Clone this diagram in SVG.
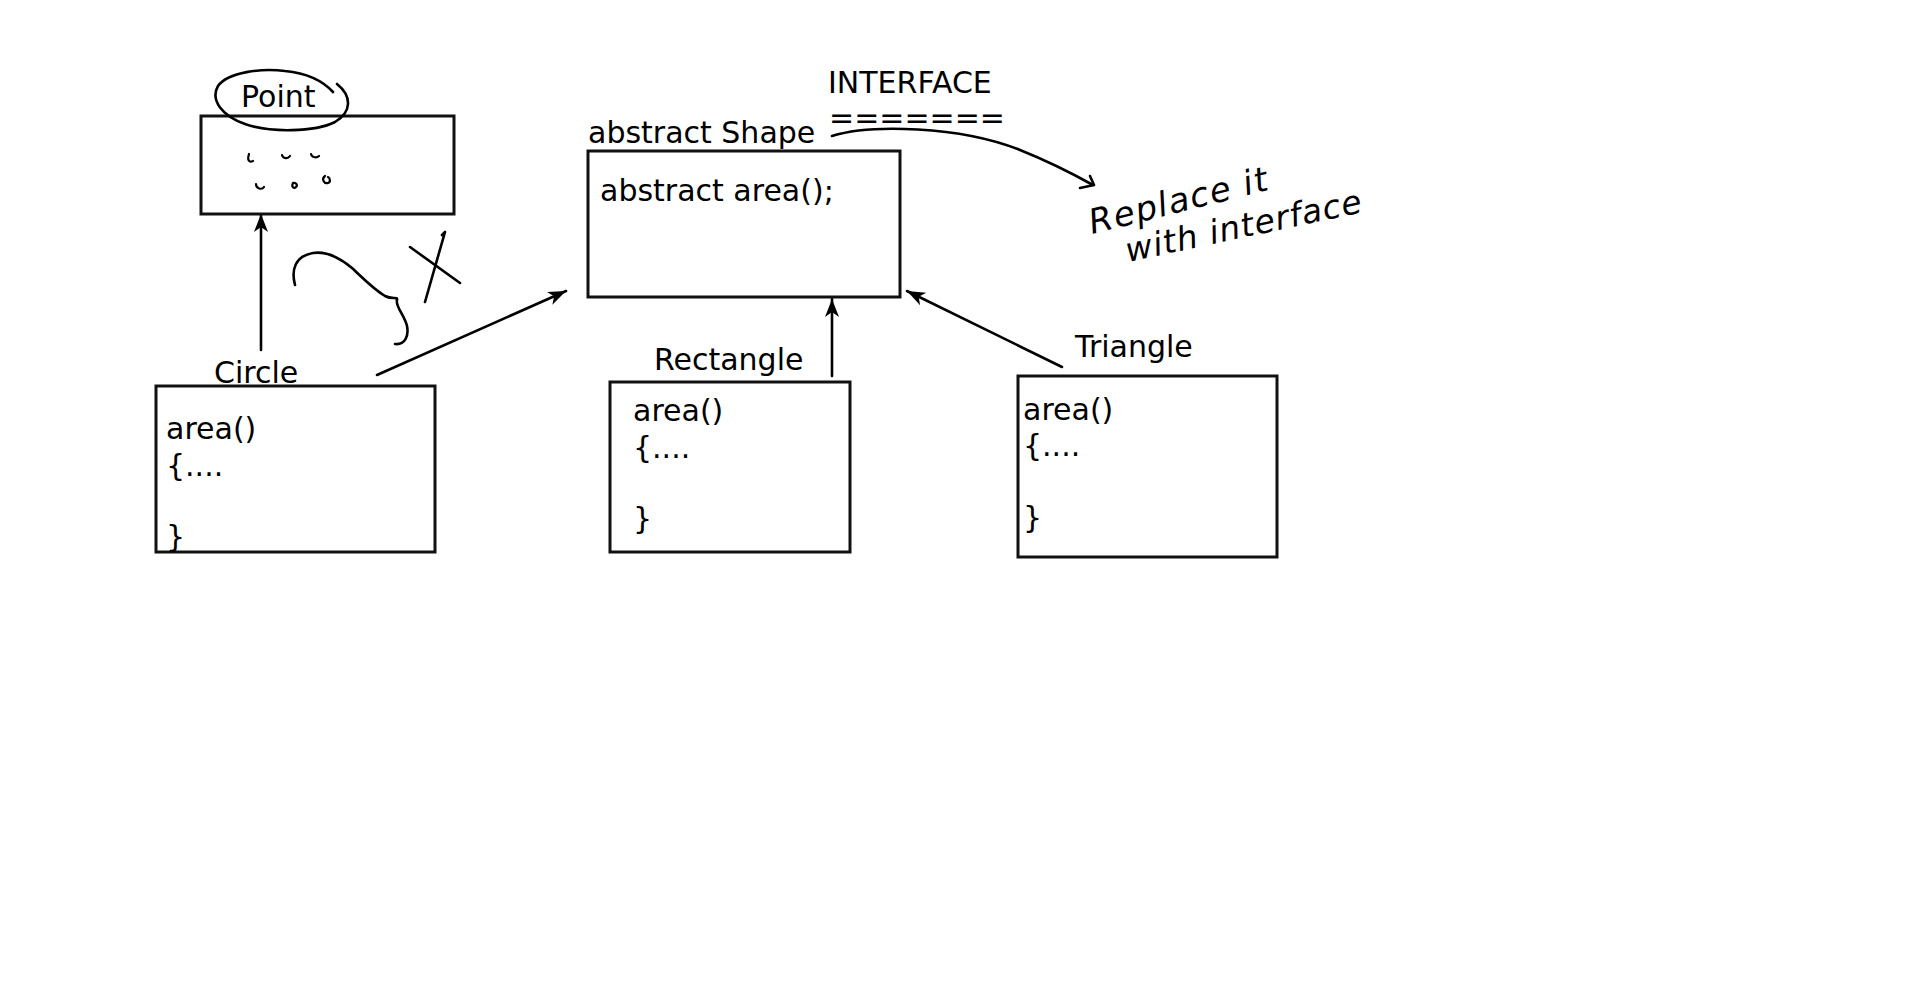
<svg xmlns="http://www.w3.org/2000/svg" width="1920" height="991" viewBox="0 0 1920 991">
<defs>
<style>
.box{fill:#fff;stroke:#111;stroke-width:3}
.t{font-family:"DejaVu Sans","Liberation Sans",sans-serif;font-size:30px;fill:#000}
.ln{fill:none;stroke:#000;stroke-width:2.6;stroke-linecap:round}
.hw{fill:none;stroke:#000;stroke-width:2.6;stroke-linecap:round;stroke-linejoin:round}
.hand{font-family:"DejaVu Sans","Liberation Sans",sans-serif;fill:#000;font-style:italic}
</style>
<marker id="arr" markerUnits="userSpaceOnUse" markerWidth="20" markerHeight="16" refX="18" refY="7" orient="auto">
<path d="M0,0 L18,7 L0,14 L5,7 Z" fill="#000"/>
</marker>
</defs>
<rect width="1920" height="991" fill="#fff"/>

<g id="connectors">
<line class="ln" x1="261" y1="350" x2="261" y2="214" marker-end="url(#arr)"/>
<line class="ln" x1="377" y1="375" x2="566" y2="291" marker-end="url(#arr)"/>
<line class="ln" x1="832" y1="376" x2="832" y2="299" marker-end="url(#arr)"/>
<line class="ln" x1="1062" y1="367" x2="907" y2="291" marker-end="url(#arr)"/>
<path class="hw" d="M832,136 C870,124 960,126 1020,150 C1050,162 1075,175 1093,185"/>
<path class="hw" d="M1090,176 L1094,185 L1080,188"/>
</g>

<g id="point">
<rect class="box" x="201" y="116" width="253" height="98"/>
<text class="t" x="241" y="107">Point</text>
<path class="hw" d="M337,84 C352,96 352,112 335,122 C315,132 270,133 245,124 C222,116 210,100 218,86 C228,72 262,68 285,71 C305,73 322,80 333,92"/>
<g class="hw" style="stroke-width:2.2">
<path d="M249,154 C247,160 249,163 253,161"/>
<path d="M282,155 C283,159 288,159 290,156"/>
<path d="M311,154 C312,158 317,158 319,156"/>
<path d="M256,184 C256,189 262,190 264,187"/>
<path d="M293,183 C291,187 294,189 296,187 C298,185 296,182 293,183"/>
<path d="M325,176 C321,179 324,184 328,183 C331,182 330,178 328,177"/>
</g>
</g>

<g id="shape">
<rect class="box" x="588" y="151" width="312" height="146"/>
<text class="t" x="588" y="143">abstract Shape</text>
<text class="t" x="600" y="201">abstract area();</text>
<text class="t" x="828" y="93">INTERFACE</text>
<text class="t" x="829" y="128">=======</text>
</g>

<g id="circle">
<rect class="box" x="156" y="386" width="279" height="166"/>
<text class="t" x="214" y="383">Circle</text>
<text class="t" x="166" y="439">area()</text>
<text class="t" x="166" y="476">{....</text>
<text class="t" x="166" y="547">}</text>
</g>

<g id="rectangle">
<rect class="box" x="610" y="382" width="240" height="170"/>
<text class="t" x="654" y="370">Rectangle</text>
<text class="t" x="633" y="421">area()</text>
<text class="t" x="633" y="458">{....</text>
<text class="t" x="633" y="529">}</text>
</g>

<g id="triangle">
<rect class="box" x="1018" y="376" width="259" height="181"/>
<text class="t" x="1075" y="357">Triangle</text>
<text class="t" x="1023" y="420">area()</text>
<text class="t" x="1023" y="456">{....</text>
<text class="t" x="1023" y="528">}</text>
</g>

<g id="annotations">
<path class="hw" d="M295,285 C291,270 295,256 313,253 C326,251 340,258 352,268 C362,277 372,288 385,296 C392,300 398,296 397,300 C395,306 405,316 407,326 C409,336 405,345 395,344"/>
<path class="hw" d="M410,247 L460,283"/>
<path class="hw" d="M442,235 L445,232 L425,302"/>
<text class="hand" font-size="34" letter-spacing="1.5" transform="translate(1092,234) rotate(-14)">Replace it</text>
<text class="hand" font-size="33" letter-spacing="1" transform="translate(1128,262) rotate(-12)">with interface</text>
</g>
</svg>
